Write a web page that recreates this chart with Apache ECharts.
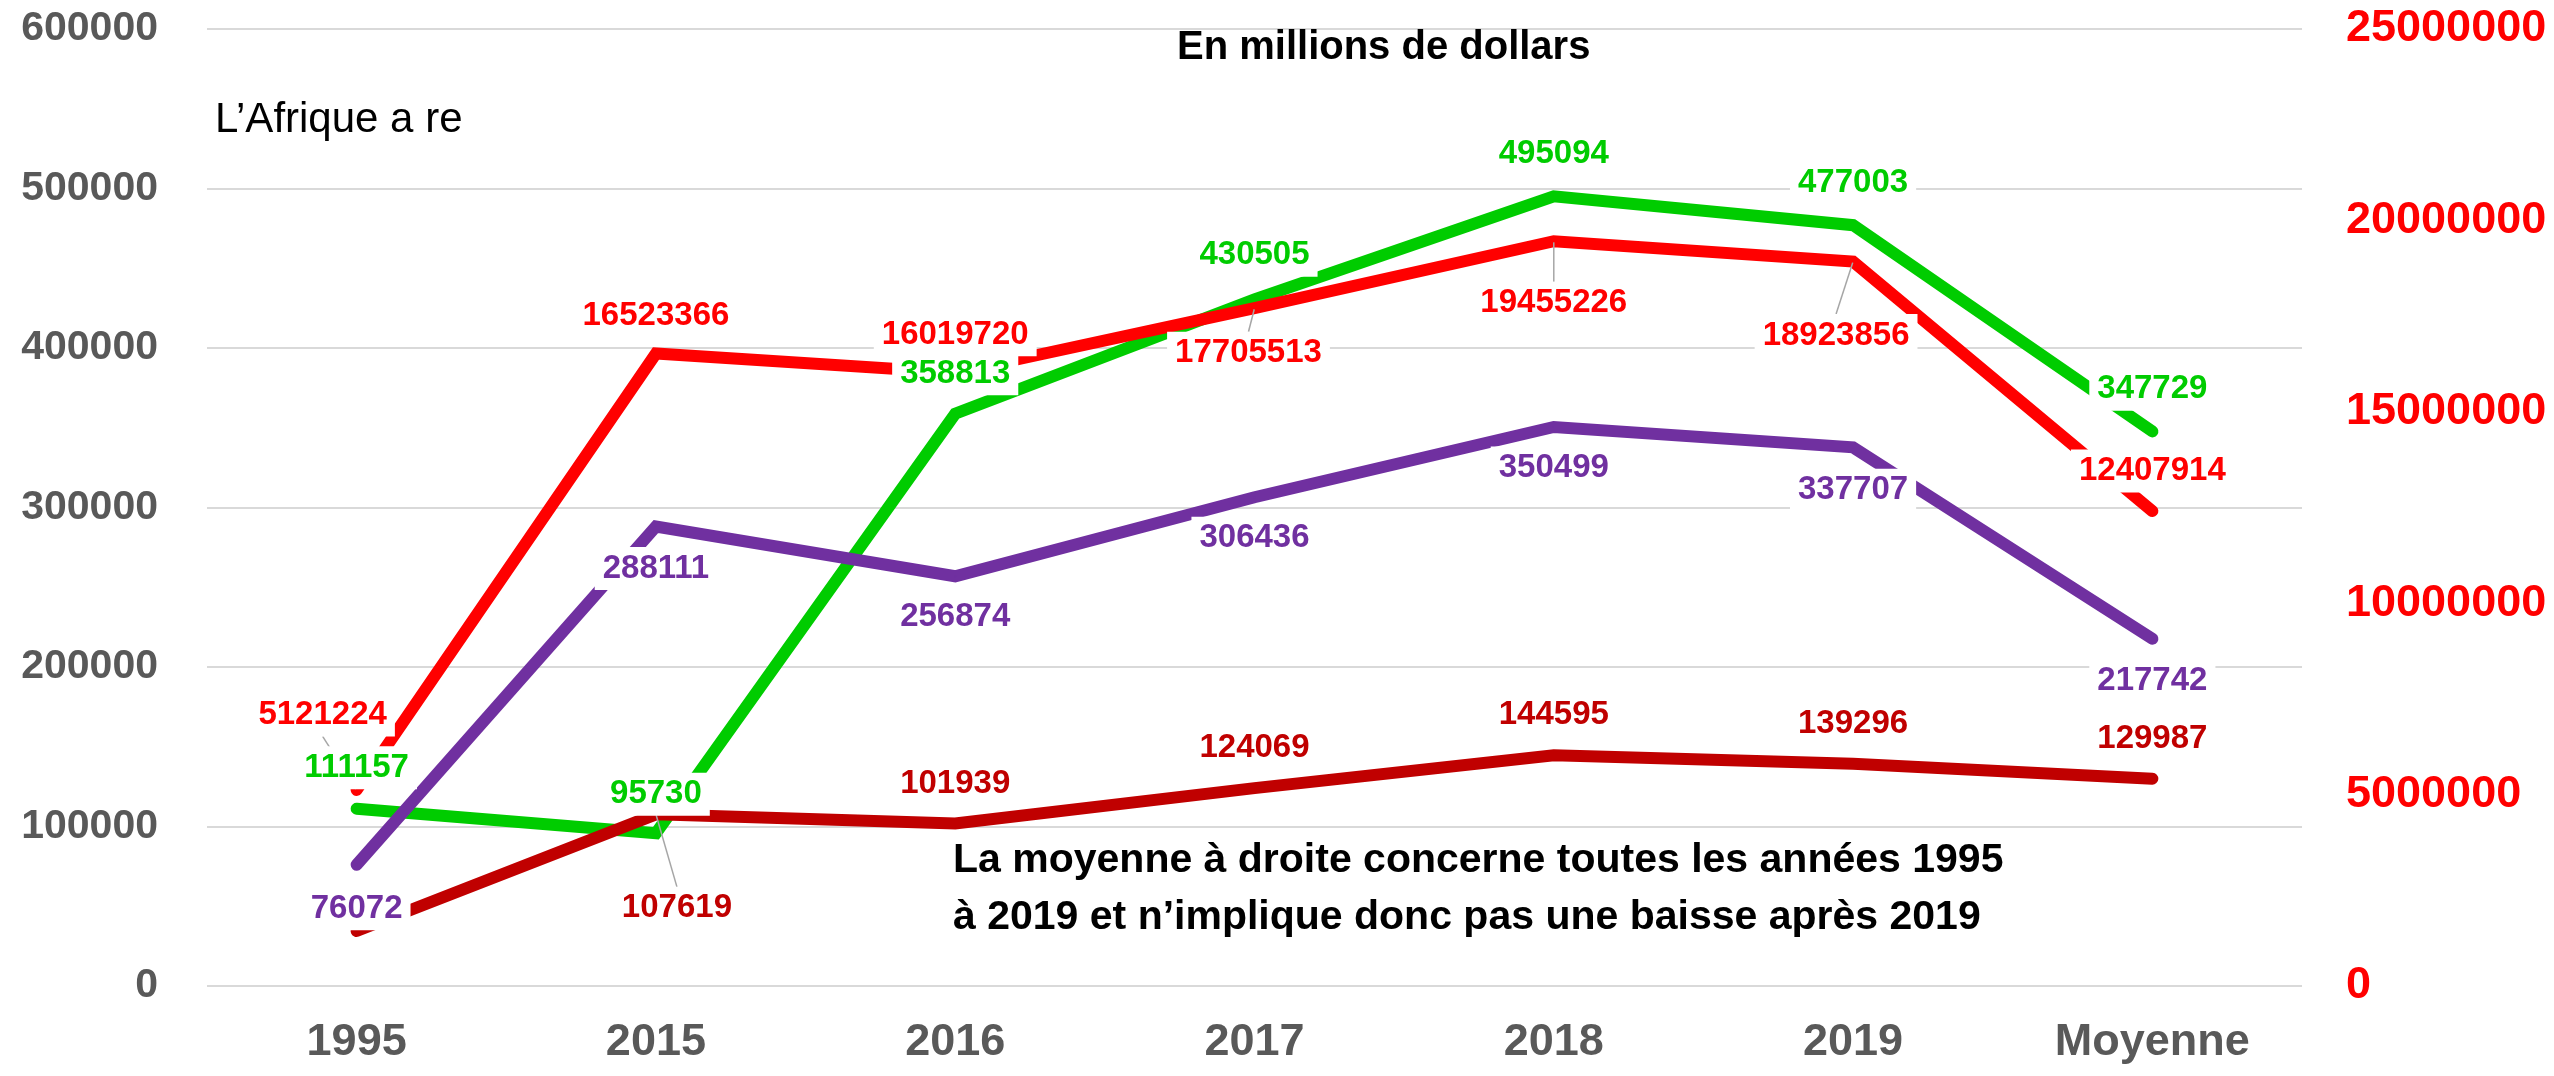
<!DOCTYPE html>
<html>
<head>
<meta charset="utf-8">
<script src="https://cdn.jsdelivr.net/npm/echarts@6/dist/echarts.min.js"></script>
<style>
html,body{margin:0;padding:0;background:#fff;}
#chart{width:2554px;height:1076px;}
</style>
</head>
<body>
<div id="chart"></div>
<script>
// ---- data ----
const categories = ['1995', '2015', '2016', '2017', '2018', '2019', 'Moyenne'];
const greenValues = [111157, 95730, 358813, 430505, 495094, 477003, 347729];
const purpleValues = [76072, 288111, 256874, 306436, 350499, 337707, 217742];
const darkRedValues = [34500, 107619, 101939, 124069, 144595, 139296, 129987];
const redValues = [5121224, 16523366, 16019720, 17705513, 19455226, 18923856, 12407914];
const leftAxisRange = [0, 600000, 100000];
const rightAxisRange = [0, 25000000, 5000000];
const titleText = 'En millions de dollars';
const noteText = "L\u2019Afrique a re";
const annotationLines = [
  'La moyenne \u00e0 droite concerne toutes les ann\u00e9es 1995',
  '\u00e0 2019 et n\u2019implique donc pas une baisse apr\u00e8s 2019'
];

// ---- styles (label offsets in px, leader lines, hidden labels) ----
const FONT = '"Liberation Sans", Arial, sans-serif';
const labelOffsets = [
  // green
  [[0, -41], [0, -39], [0, -40], [0, -44], [0, -42], [0, -42], [0, -42]],
  // red (right axis)
  [[-34, -75], [0, -38], [0, -38], [-6, 45], [0, 62], [-17, 74], [0, -40]],
  // dark red
  [[0, -40], [21, 94], [0, -40], [0, -40], [0, -40], [0, -40], [0, -40]],
  // purple
  [[0, 44], [0, 42], [0, 41], [0, 41], [0, 41], [0, 43], [0, 42]]
];
const leaderLines = [[], [0, 3, 4, 5], [1], []];
const hiddenLabels = [[], [], [0], []];

function buildSeries(name, values, color, idx, yAxisIndex) {
  return {
    name: name,
    type: 'line',
    yAxisIndex: yAxisIndex,
    data: values.map(function (v, i) {
      const item = {
        value: v,
        labelLine: { show: leaderLines[idx].indexOf(i) >= 0 }
      };
      if (hiddenLabels[idx].indexOf(i) >= 0) item.label = { show: false };
      return item;
    }),
    symbol: 'circle',
    symbolSize: 2,
    showSymbol: true,
    itemStyle: { color: color },
    lineStyle: { color: color, width: 12, cap: 'round', join: 'miter' },
    label: {
      show: true,
      position: 'inside',
      color: color,
      fontSize: 33,
      fontWeight: 'bold',
      fontFamily: FONT,
      backgroundColor: '#ffffff',
      padding: [5, 8]
    },
    labelLine: {
      show: false,
      lineStyle: { color: '#A6A6A6', width: 1.5 }
    },
    labelLayout: function (params) {
      const o = labelOffsets[idx][params.dataIndex];
      return { dx: o[0], dy: o[1] };
    },
    emphasis: { disabled: true },
    silent: true
  };
}

const plainNumber = function (v) { return String(v); };

const chart = echarts.init(document.getElementById('chart'));
chart.setOption({
  animation: false,
  backgroundColor: '#ffffff',
  grid: { left: 207, right: 252, top: 29, bottom: 90, containLabel: false },
  xAxis: {
    type: 'category',
    data: categories,
    boundaryGap: true,
    axisLine: { show: false },
    axisTick: { show: false },
    axisLabel: { fontSize: 45, fontWeight: 'bold', color: '#595959', margin: 34, fontFamily: FONT }
  },
  yAxis: [
    {
      type: 'value',
      min: leftAxisRange[0], max: leftAxisRange[1], interval: leftAxisRange[2],
      axisLine: { show: false },
      axisTick: { show: false },
      axisLabel: { fontSize: 41, fontWeight: 'bold', color: '#595959', margin: 49, fontFamily: FONT, formatter: plainNumber },
      splitLine: { lineStyle: { color: '#D9D9D9', width: 2 } }
    },
    {
      type: 'value',
      position: 'right',
      min: rightAxisRange[0], max: rightAxisRange[1], interval: rightAxisRange[2],
      axisLine: { show: false },
      axisTick: { show: false },
      axisLabel: { fontSize: 45, fontWeight: 'bold', color: '#FF0000', margin: 44, fontFamily: FONT, formatter: plainNumber },
      splitLine: { show: false }
    }
  ],
  series: [
    buildSeries('green', greenValues, '#00CC00', 0, 0),
    buildSeries('red', redValues, '#FF0000', 1, 1),
    buildSeries('darkred', darkRedValues, '#C00000', 2, 0),
    buildSeries('purple', purpleValues, '#7030A0', 3, 0)
  ],
  graphic: [
    {
      type: 'text', left: 1177, top: 28, z: 100,
      style: { text: titleText, fontSize: 40, fontWeight: 'bold', fill: '#000', fontFamily: FONT }
    },
    {
      type: 'text', left: 215, top: 99, z: 100,
      style: { text: noteText, fontSize: 42, fill: '#000', fontFamily: FONT }
    },
    {
      type: 'text', left: 953, top: 840, z: 100,
      style: { text: annotationLines[0], fontSize: 41, fontWeight: 'bold', fill: '#000', fontFamily: FONT }
    },
    {
      type: 'text', left: 953, top: 897, z: 100,
      style: { text: annotationLines[1], fontSize: 41, fontWeight: 'bold', fill: '#000', fontFamily: FONT }
    }
  ]
});
</script>
</body>
</html>
